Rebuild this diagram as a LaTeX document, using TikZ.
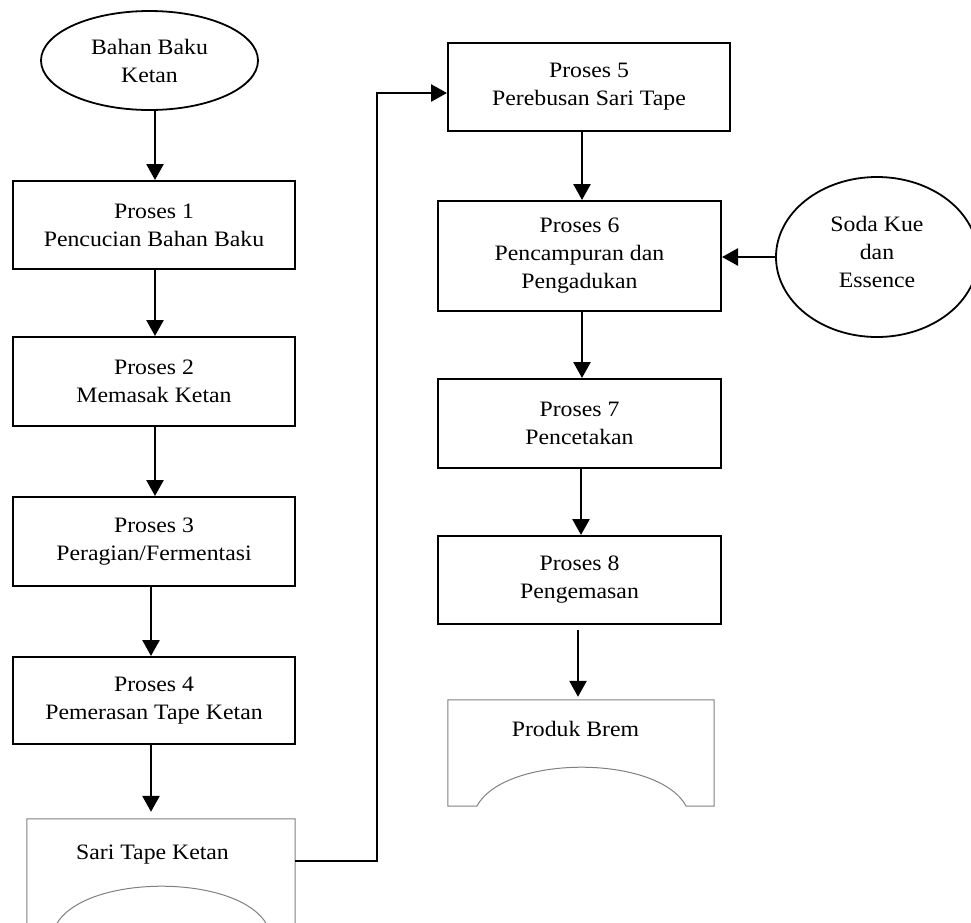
\documentclass[tikz,border=0pt]{standalone}
\usepackage{fontspec}
\setmainfont{Liberation Serif}[FakeStretch=1.08]
\usetikzlibrary{arrows.meta,shapes.geometric,calc}
\begin{document}
\begin{tikzpicture}[x=1pt,y=-1pt,
  txt/.style={font=\fontsize{22}{28}\selectfont, align=center, inner sep=0pt},
  procbox/.style={txt, draw=black, line width=2pt, rectangle, minimum width=282pt, minimum height=88pt},
  termell/.style={txt, draw=black, line width=1.8pt, ellipse, inner sep=0pt},
  docframe/.style={draw=black!50, line width=1pt},
  arr/.style={line width=2.6pt, -{Triangle[length=16pt,width=17pt]}},
  conn/.style={line width=2.6pt}]
\useasboundingbox (0,0) rectangle (971,922);
\clip (0,0) rectangle (971,922);

% left column
\node[termell, minimum width=217pt, minimum height=99pt] (e1) at (149.5,60.5) {Bahan Baku\\Ketan};
\node[procbox] (b1) at (154,225) {Proses 1\\Pencucian Bahan Baku};
\node[procbox, minimum height=89pt] (b2) at (154,381.5) {Proses 2\\Memasak Ketan};
\node[procbox, minimum height=89pt] (b3) at (154,541.5) {Proses 3\\Peragian/Fermentasi};
\node[procbox, minimum height=87pt] (b4) at (154,700.5) {Proses 4\\Pemerasan Tape Ketan};
\node[minimum width=268pt, minimum height=106pt, inner sep=0pt] (sari) at (161,872) {};
\node[txt, anchor=base] (saritxt) at (152.5,859) {Sari Tape Ketan};

% right column
\node[procbox] (b5) at (589,87) {Proses 5\\Perebusan Sari Tape};
\node[procbox, minimum width=283pt, minimum height=110pt] (b6) at (579.5,256) {Proses 6\\Pencampuran dan\\Pengadukan};
\node[procbox, minimum width=283pt, minimum height=89pt] (b7) at (579.5,423.5) {Proses 7\\Pencetakan};
\node[procbox, minimum width=283pt] (b8) at (579.5,580) {Proses 8\\Pengemasan};
\node[minimum width=266pt, minimum height=106pt, inner sep=0pt] (prod) at (581,753) {};
\node[txt, anchor=base] (prodtxt) at (575.5,736) {Produk Brem};

\node[termell, minimum width=202pt, minimum height=160pt] (soda) at (877,257) {};
\node[txt] (sodatxt) at (877,251.5) {Soda Kue\\dan\\Essence};

% document shapes
\foreach \n/\l/\r in {sari/29/28, prod/29/28}{
  \draw[docframe] (\n.north west) -- (\n.north east) -- (\n.south east)
    -- ([xshift=-\r pt]\n.south east)
    .. controls ([xshift=-56pt,yshift=52pt]\n.south east) and ([xshift=57pt,yshift=52pt]\n.south west)
    .. ([xshift=\l pt]\n.south west) -- (\n.south west) -- cycle;
}

% connectors
\draw[arr] (e1.south -| 155,0) -- (b1.north -| 155,0);
\draw[arr] (b1.south -| 155,0) -- (b2.north -| 155,0);
\draw[arr] (b2.south -| 155,0) -- (b3.north -| 155,0);
\draw[arr] (b3.south -| 151,0) -- (b4.north -| 151,0);
\draw[arr] (b4.south -| 151,0) -- ($(sari.north -| 151,0)+(0,-7)$);

\coordinate (c1) at (377,861);
\coordinate (c2) at (377,93);
\draw[arr] (sari.east |- c1) -- (c1) -- (c2) -- (b5.west |- c2);

\draw[arr] (b5.south -| 582,0) -- (b6.north -| 582,0);
\draw[arr] (soda.west) -- (b6.east |- soda.west);
\draw[arr] (b6.south -| 582,0) -- (b7.north -| 582,0);
\draw[arr] (b7.south -| 581,0) -- (b8.north -| 581,0);
\draw[arr] ($(b8.south -| 578,0)+(0,5)$) -- ($(prod.north -| 578,0)+(0,-3)$);
\end{tikzpicture}
\end{document}
